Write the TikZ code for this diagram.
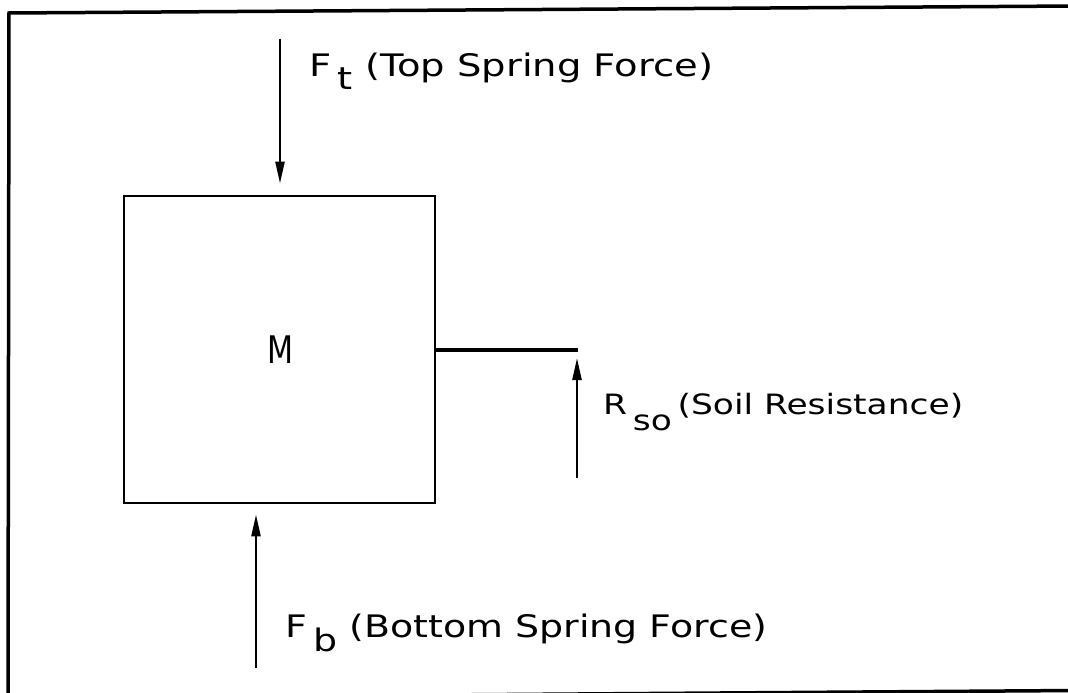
\documentclass[tikz,border=0pt]{standalone}
\usepackage{fontspec}
\setmainfont{DejaVu Sans}
\usetikzlibrary{arrows.meta}
\begin{document}
\begin{tikzpicture}[x=1pt,y=-1pt,
  frame/.style={line width=3.5pt},
  massbox/.style={draw,line width=2.8pt,minimum width=311pt,minimum height=307pt,inner sep=0pt},
  force/.style={line width=2.4pt,-{Triangle[length=22pt,width=9pt]}},
  rod/.style={line width=4.5pt},
  lbl/.style={anchor=base west,inner sep=0pt,font=\fontsize{31}{31}\selectfont},
  small lbl/.style={lbl,font=\fontsize{28}{28}\selectfont}]
\useasboundingbox (0,0) rectangle (1068,693);
% outer frame (right edge lies outside the picture)
\draw[frame] (1075,6) -- (9,13) -- (8,698) -- (1075,690.5);
% mass block
\node[massbox] (box) at (279.5,349.5) {};
\node[anchor=base,inner sep=0pt,font=\fontsize{38}{38}\selectfont] (mlab) at (280,363) {\resizebox{26pt}{\height}{M}};
% top spring force
\coordinate (ft) at (280,39);
\draw[force] (ft) -- ([yshift=11pt]ft |- box.north);
\node[lbl] (ftlab) at (309,77) {\resizebox{404pt}{\height}{F\,\raisebox{-13pt}{t}\ (Top Spring Force)}};
% bottom spring force
\coordinate (fb) at (256,668);
\draw[force] (fb) -- ([yshift=-10pt]fb |- box.south);
\node[lbl] (fblab) at (285,637) {\resizebox{482pt}{\height}{F\,\raisebox{-14pt}{b}\ (Bottom Spring Force)}};
% soil resistance
\coordinate (rodend) at (578,350);
\draw[rod] (box.east |- rodend) -- (rodend);
\coordinate (rs) at (577,478);
\draw[force] (rs) -- ([yshift=-8pt]rs |- rodend);
\node[small lbl] (rslab) at (603,414) {\resizebox{360pt}{\height}{R\,\raisebox{-16pt}{so}\,(Soil Resistance)}};
\end{tikzpicture}
\end{document}
